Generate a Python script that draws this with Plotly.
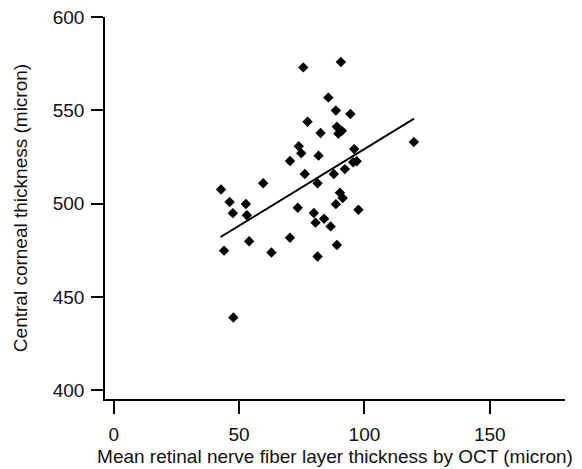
import plotly.graph_objects as go

rnfl = [42.8, 46.2, 47.5, 52.7, 53.1, 44.0, 47.7, 54.0, 59.6, 62.9,
        70.3, 70.3, 73.4, 73.8, 74.8, 75.6, 76.2, 77.3, 79.8, 80.5,
        81.3, 81.3, 81.7, 82.5, 83.9, 85.6, 86.5, 87.8, 88.6, 88.6,
        89.0, 89.0, 90.2, 91.0, 90.6, 91.3, 89.6, 92.2, 94.4, 95.5,
        95.9, 96.9, 97.6, 119.7]
cct = [507.6, 500.9, 494.9, 499.8, 493.8, 474.8, 439.0, 479.8, 510.9, 473.8,
       481.7, 522.8, 497.8, 530.8, 527.0, 573.0, 515.9, 543.9, 495.0, 489.8,
       471.7, 510.9, 525.7, 537.8, 491.9, 556.8, 487.8, 515.9, 549.9, 499.7,
       477.8, 541.2, 505.8, 539.0, 575.9, 503.0, 537.5, 518.5, 548.0, 522.2,
       529.2, 522.7, 496.7, 533.0]

fit_x = [42.6, 119.8]
fit_y = [482.1, 545.5]

x_ticks = [0, 50, 100, 150]
y_ticks = [400, 450, 500, 550, 600]

fig = go.Figure()
fig.add_trace(go.Scatter(x=rnfl, y=cct, mode="markers",
                         marker=dict(symbol="diamond", size=8, color="black"),
                         showlegend=False))
fig.add_trace(go.Scatter(x=fit_x, y=fit_y, mode="lines",
                         line=dict(color="black", width=2),
                         showlegend=False))

font = dict(family="Liberation Sans, Arial", size=19, color="#111")

fig.update_layout(
    width=582, height=469,
    margin=dict(l=105, r=17, t=17, b=70),
    paper_bgcolor="white", plot_bgcolor="white",
    font=font,
    xaxis=dict(range=[-3.5, 180], tickvals=x_ticks, ticks="outside", ticklen=13,
               tickwidth=1.5, tickcolor="black", showline=True, linecolor="black",
               linewidth=1.5, showgrid=False, zeroline=False,
               ticklabelstandoff=4,
               title=dict(text="Mean retinal nerve fiber layer thickness by OCT (micron)",
                          standoff=6, font=font),
               tickfont=font, automargin=False),
    yaxis=dict(range=[395.3, 600], tickvals=y_ticks, ticks="outside", ticklen=12,
               tickwidth=1.5, tickcolor="black", showline=True, linecolor="black",
               linewidth=1.5, showgrid=False, zeroline=False,
               ticklabelstandoff=3,
               title=dict(text="Central corneal thickness (micron)", standoff=20, font=font),
               tickfont=font, automargin=False),
)

fig.write_html("out.html", config={"displayModeBar": False},
               post_script="document.body.style.margin='0px';")
